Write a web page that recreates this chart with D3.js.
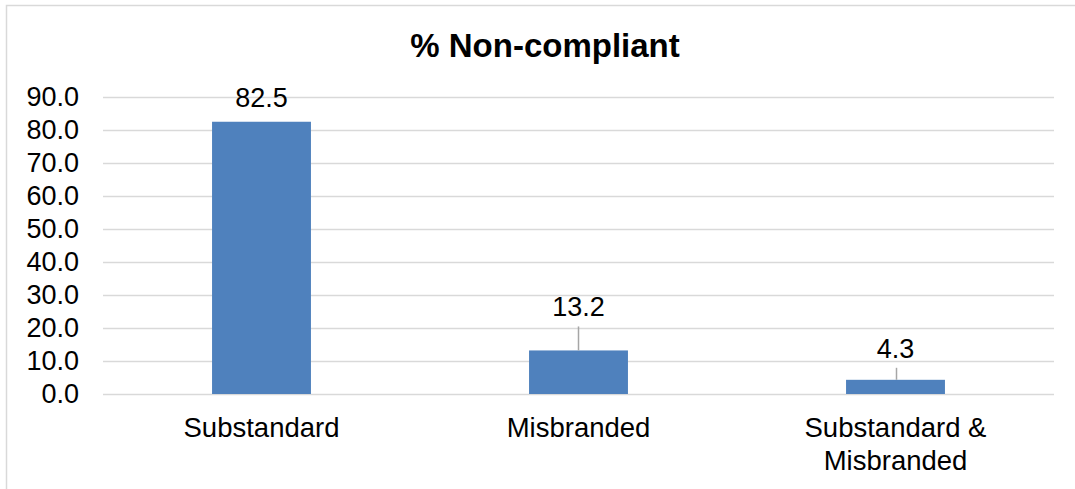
<!DOCTYPE html>
<html>
<head>
<meta charset="utf-8">
<script src="https://cdn.jsdelivr.net/npm/d3@7"></script>
<style>
	body { margin: 0; background: #fff; }
	text { font-family: "Liberation Sans", Arial, sans-serif; fill: #000; }
</style>
</head>
<body>
<div id="chart"></div>
<script>
const categories = ["Substandard", "Misbranded", "Substandard & Misbranded"];
const values = [82.5, 13.2, 4.3];
const yTicks = [0, 10, 20, 30, 40, 50, 60, 70, 80, 90];
const title = "% Non-compliant";

const W = 1075, H = 489;
const margin = { top: 97, right: 21, bottom: 95, left: 103 };
const width = W - margin.left - margin.right,
	height = H - margin.top - margin.bottom;

// how far each value label sits above its bar (moved by hand in the original)
const labelLift = [15, 34, 22];

const svg = d3
	.select("#chart")
	.append("svg")
	.attr("width", W)
	.attr("height", H);

// chart frame
svg.append("rect")
	.attr("x", 6.5)
	.attr("y", 5.5)
	.attr("width", W + 10)
	.attr("height", H + 10)
	.attr("fill", "none")
	.attr("stroke", "#d9d9d9")
	.attr("stroke-width", 1.5);

svg.append("text")
	.attr("x", 545)
	.attr("y", 57)
	.attr("text-anchor", "middle")
	.style("font-size", "33px")
	.style("font-weight", "bold")
	.text(title);

const g = svg.append("g")
	.attr("transform", `translate(${margin.left},${margin.top})`);

const x = d3.scaleBand()
	.domain(categories)
	.range([0, width])
	.paddingInner(0.688)
	.paddingOuter(0.344);

const y = d3.scaleLinear()
	.domain([0, 90])
	.range([height, 0]);

// gridlines
g.append("g")
	.selectAll("line")
	.data(yTicks)
	.join("line")
	.attr("x1", 0)
	.attr("x2", width)
	.attr("y1", (d) => Math.round(y(d)) + 0.5)
	.attr("y2", (d) => Math.round(y(d)) + 0.5)
	.attr("stroke", "#d9d9d9")
	.attr("stroke-width", 1.5);

// y axis labels
const yAxis = g.append("g")
	.call(d3.axisLeft(y).tickValues(yTicks).tickFormat(d3.format(".1f")).tickSize(0).tickPadding(24));
yAxis.select(".domain").remove();
yAxis.selectAll("text")
	.style("font-size", "27px")
	.attr("font-family", null);

// bars
g.selectAll("rect.bar")
	.data(values)
	.join("rect")
	.attr("class", "bar")
	.attr("x", (d, i) => x(categories[i]))
	.attr("y", (d) => y(d))
	.attr("width", x.bandwidth())
	.attr("height", (d) => height - y(d))
	.attr("fill", "#4f81bd");

// leader lines
g.selectAll("line.leader")
	.data(values.filter((d, i) => labelLift[i] > 20))
	.join("line")
	.attr("class", "leader")
	.each(function (d) {
		const i = values.indexOf(d);
		const cx = Math.round(x(categories[i]) + x.bandwidth() / 2) + 0.5;
		d3.select(this)
			.attr("x1", cx).attr("x2", cx)
			.attr("y1", y(d))
			.attr("y2", y(d) - labelLift[i] + 10);
	})
	.attr("stroke", "#a6a6a6")
	.attr("stroke-width", 1.5);

// value labels
g.selectAll("text.val")
	.data(values)
	.join("text")
	.attr("class", "val")
	.attr("x", (d, i) => x(categories[i]) + x.bandwidth() / 2)
	.attr("y", (d, i) => y(d) - labelLift[i])
	.attr("text-anchor", "middle")
	.style("font-size", "27px")
	.text((d) => d.toFixed(1));

// category labels, wrapped like the original
const wrap = { "Substandard & Misbranded": ["Substandard &", "Misbranded"] };
g.selectAll("text.cat")
	.data(categories)
	.join("text")
	.attr("class", "cat")
	.attr("text-anchor", "middle")
	.style("font-size", "27.5px")
	.attr("transform", (d) => `translate(${x(d) + x.bandwidth() / 2},${height + 43})`)
	.each(function (d) {
		const lines = wrap[d] || [d];
		d3.select(this)
			.selectAll("tspan")
			.data(lines)
			.join("tspan")
			.attr("x", 0)
			.attr("dy", (l, j) => (j === 0 ? 0 : 33))
			.text((l) => l);
	});
</script>
</body>
</html>
